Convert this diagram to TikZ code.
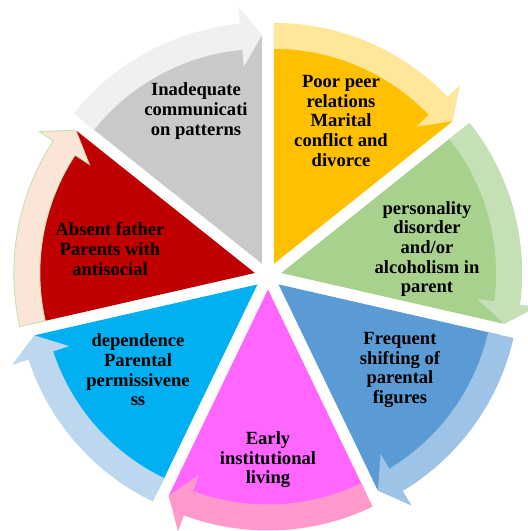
\documentclass[tikz,border=0pt]{standalone}
\usepackage{fontspec}
\setmainfont{Liberation Serif}
\definecolor{wgray}{HTML}{C9C9C9}
\definecolor{bgray}{HTML}{F0F0F0}
\definecolor{worange}{HTML}{FFC000}
\definecolor{borange}{HTML}{FFE699}
\definecolor{wgreen}{HTML}{A9D18E}
\definecolor{bgreen}{HTML}{C5E0B4}
\definecolor{wblue}{HTML}{5B9BD5}
\definecolor{bblue}{HTML}{9DC3E6}
\definecolor{wmag}{HTML}{FF66FF}
\definecolor{bmag}{HTML}{FF99CC}
\definecolor{wcyan}{HTML}{00B0F0}
\definecolor{bcyan}{HTML}{BDD7EE}
\definecolor{wred}{HTML}{C00000}
\definecolor{bred}{HTML}{FBE5D6}
\definecolor{redline}{HTML}{C5E0B4}
\begin{document}
\begin{tikzpicture}[x=1pt,y=1pt,
  lbl/.style={align=center,font=\bfseries\fontsize{18.6}{19.6}\selectfont,text=black,inner sep=0pt}]
\useasboundingbox (0,0) rectangle (528,531);
\coordinate (C) at (268,255);
\newcommand\mywedge[2]{%
 \begin{scope}[shift={(C)},shift={(#1:13.5)}]
 \pgfmathsetmacro\aL{#1+25.714}
 \pgfmathsetmacro\aR{#1-25.714}
 \fill[#2] (0,0) -- (\aL:228) arc[start angle=\aL, end angle=\aR, radius=228] -- cycle;
 \end{scope}}
\newcommand\myband[3]{%
 \begin{scope}[shift={(C)},shift={(#1:13.5)}]
 \pgfmathsetmacro\aL{#1+25.714}
 \pgfmathsetmacro\aR{#1-25.714}
 \pgfmathsetmacro\aB{#1-25.714+5.3}
 \path[fill=#2,#3] (\aL:215) arc[start angle=\aL,end angle=\aB,radius=215] -- (\aB:198) -- (\aR:229) -- (\aB:258) -- (\aB:241) arc[start angle=\aB, end angle=\aL, radius=241] -- cycle;
 \end{scope}}
\mywedge{115.714}{wgray}
\mywedge{64.286}{worange}
\mywedge{12.857}{wgreen}
\mywedge{-38.571}{wblue}
\mywedge{-90}{wmag}
\mywedge{-141.429}{wcyan}
\mywedge{167.143}{wred}
\myband{115.714}{bgray}{draw=none}
\myband{64.286}{borange}{draw=none}
\myband{12.857}{bgreen}{draw=none}
\myband{-38.571}{bblue}{draw=none}
\myband{-90}{bmag}{draw=none}
\myband{-141.429}{bcyan}{draw=none}
\myband{167.143}{bred}{draw=redline,line width=0.9pt,line join=miter}
\node[lbl] (t1) at (196,420) {Inadequate\\communicati\\on patterns};
\node[lbl] (t2) at (341,410) {Poor peer\\relations\\Marital\\conflict and\\divorce};
\node[lbl] (t3) at (427,282) {personality\\disorder\\and/or\\alcoholism in\\parent};
\node[lbl] (t4) at (400,161) {Frequent\\shifting of\\parental\\figures};
\node[lbl] (t5) at (268,71) {Early\\institutional\\living};
\node[lbl] (t6) at (138,161) {dependence\\Parental\\permissivene\\ss};
\node[lbl] (t7) at (110,282) {Absent father\\Parents with\\antisocial};
\end{tikzpicture}
\end{document}
